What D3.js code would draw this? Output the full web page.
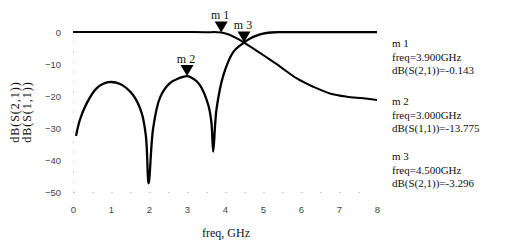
<!DOCTYPE html>
<html>
<head>
<meta charset="utf-8">
<script src="https://cdn.jsdelivr.net/npm/d3@7/dist/d3.min.js"></script>
<style>
  body { margin: 0; background: #fff; }
  svg { display: block; }
  .tick-label { font-family: "Liberation Sans", sans-serif; font-size: 9.5px; fill: #444; }
  .serif { font-family: "Liberation Serif", serif; fill: #111; }
</style>
</head>
<body>
<div id="chart"></div>
<script>
// S(2,1) trace, dB vs GHz
var s21Freq = [0, 0.5, 1, 1.5, 2, 2.5, 3, 3.5, 3.9, 4.1, 4.3, 4.5, 4.75, 5.0, 5.45, 5.89, 6.32, 6.76, 7.2, 7.64, 8.0];
var s21Db   = [0, -0.01, -0.02, -0.02, -0.03, -0.02, -0.02, -0.05, -0.143, -0.8, -1.9, -3.296, -5.2, -7.2, -10.8, -14.5, -17.1, -19.2, -20.2, -20.7, -21.25];

// S(1,1) trace
var s11Freq = [0.08, 0.18, 0.36, 0.62, 0.93, 1.24, 1.58, 1.81, 1.92, 1.99, 2.11, 2.29, 2.55, 2.8, 3.0, 3.2, 3.34, 3.56, 3.64, 3.69, 3.74, 3.78, 3.96, 4.22, 4.5, 4.65, 4.83, 5.0, 5.2, 5.5, 6, 6.5, 7, 7.5, 8];
var s11Db   = [-32.5, -27.5, -22.3, -17.6, -15.7, -16.25, -19.7, -25.4, -32.7, -47.3, -30, -20.5, -16, -14.4, -13.775, -14.9, -16.6, -22.8, -28, -37.4, -29, -23.8, -13.4, -6.2, -3.296, -2.1, -1.15, -0.5, -0.15, -0.05, -0.02, -0.02, -0.01, -0.01, -0.01];

// markers
var markerNames = ["m 1", "m 2", "m 3"];
var markerFreq  = [3.9, 3.0, 4.5];
var markerDb    = [-0.143, -13.775, -3.296];
var markerTrace = ["dB(S(2,1))", "dB(S(1,1))", "dB(S(2,1))"];

var xTicks = [0, 1, 2, 3, 4, 5, 6, 7, 8];
var yTicks = [0, -10, -20, -30, -40, -50];

var width = 527, height = 241;

var svg = d3.select("#chart").append("svg")
    .attr("width", width)
    .attr("height", height);

svg.append("rect").attr("width", width).attr("height", height).attr("fill", "#fff");

var x = d3.scaleLinear().domain([0, 8]).range([73, 377]);
var y = d3.scaleLinear().domain([-50, 0]).range([192, 32]);

// faint dotted axes
var xAxis = svg.append("g")
    .attr("transform", "translate(0," + y(-50) + ")")
    .call(d3.axisBottom(x).tickValues(xTicks).tickSize(0).tickPadding(12).tickFormat(d3.format("d")));
xAxis.select(".domain").attr("stroke", "#999").attr("stroke-dasharray", "1,18");
xAxis.selectAll("text").attr("class", "tick-label").attr("fill", null).attr("dy", "0.95em");

var yAxis = svg.append("g")
    .attr("transform", "translate(" + x(0) + ",0)")
    .call(d3.axisLeft(y).tickValues(yTicks).tickSize(0).tickPadding(12).tickFormat(d3.format("d")));
yAxis.select(".domain").attr("stroke", "#aaa").attr("stroke-dasharray", "1,9");
yAxis.selectAll("text").attr("class", "tick-label").attr("fill", null);

// traces
var line = d3.line()
    .x(function (d) { return x(d[0]); })
    .y(function (d) { return y(d[1]); })
    .curve(d3.curveCatmullRom.alpha(0.5));

svg.append("path")
    .datum(d3.zip(s21Freq, s21Db))
    .attr("fill", "none")
    .attr("stroke", "#000")
    .attr("stroke-width", 2)
    .attr("d", line);

svg.append("path")
    .datum(d3.zip(s11Freq, s11Db))
    .attr("fill", "none")
    .attr("stroke", "#000")
    .attr("stroke-width", 2.3)
    .attr("d", line);

// marker triangles + labels
markerNames.forEach(function (name, i) {
    var px = x(markerFreq[i]), py = y(markerDb[i]);
    svg.append("path")
        .attr("d", "M" + (px - 6.5) + "," + (py - 11) + "L" + (px + 6.5) + "," + (py - 11) + "L" + px + "," + py + "Z")
        .attr("fill", "#000");
    svg.append("text")
        .attr("class", "serif")
        .attr("x", px - 1)
        .attr("y", py - 13.5)
        .attr("text-anchor", "middle")
        .attr("font-size", "12px")
        .text(name);
});

// marker readouts on the right
var blockTop = [47, 105, 160];
markerNames.forEach(function (name, i) {
    var g = svg.append("text")
        .attr("class", "serif")
        .attr("font-size", "11px");
    var lines = [name,
        "freq=" + markerFreq[i].toFixed(3) + "GHz",
        markerTrace[i] + "=" + markerDb[i]];
    lines.forEach(function (t, j) {
        g.append("tspan")
            .attr("x", 392)
            .attr("y", blockTop[i] + j * 13.5)
            .text(t);
    });
});

// axis titles
svg.append("text")
    .attr("class", "serif")
    .attr("font-size", "12px")
    .attr("letter-spacing", "1px")
    .attr("text-anchor", "middle")
    .attr("transform", "translate(19,112) rotate(-90)")
    .text("dB(S(2,1))");
svg.append("text")
    .attr("class", "serif")
    .attr("font-size", "12px")
    .attr("letter-spacing", "1px")
    .attr("text-anchor", "middle")
    .attr("transform", "translate(31,112) rotate(-90)")
    .text("dB(S(1,1))");

svg.append("text")
    .attr("class", "serif")
    .attr("font-size", "12px")
    .attr("text-anchor", "middle")
    .attr("x", 226)
    .attr("y", 237)
    .text("freq, GHz");
</script>
</body>
</html>
